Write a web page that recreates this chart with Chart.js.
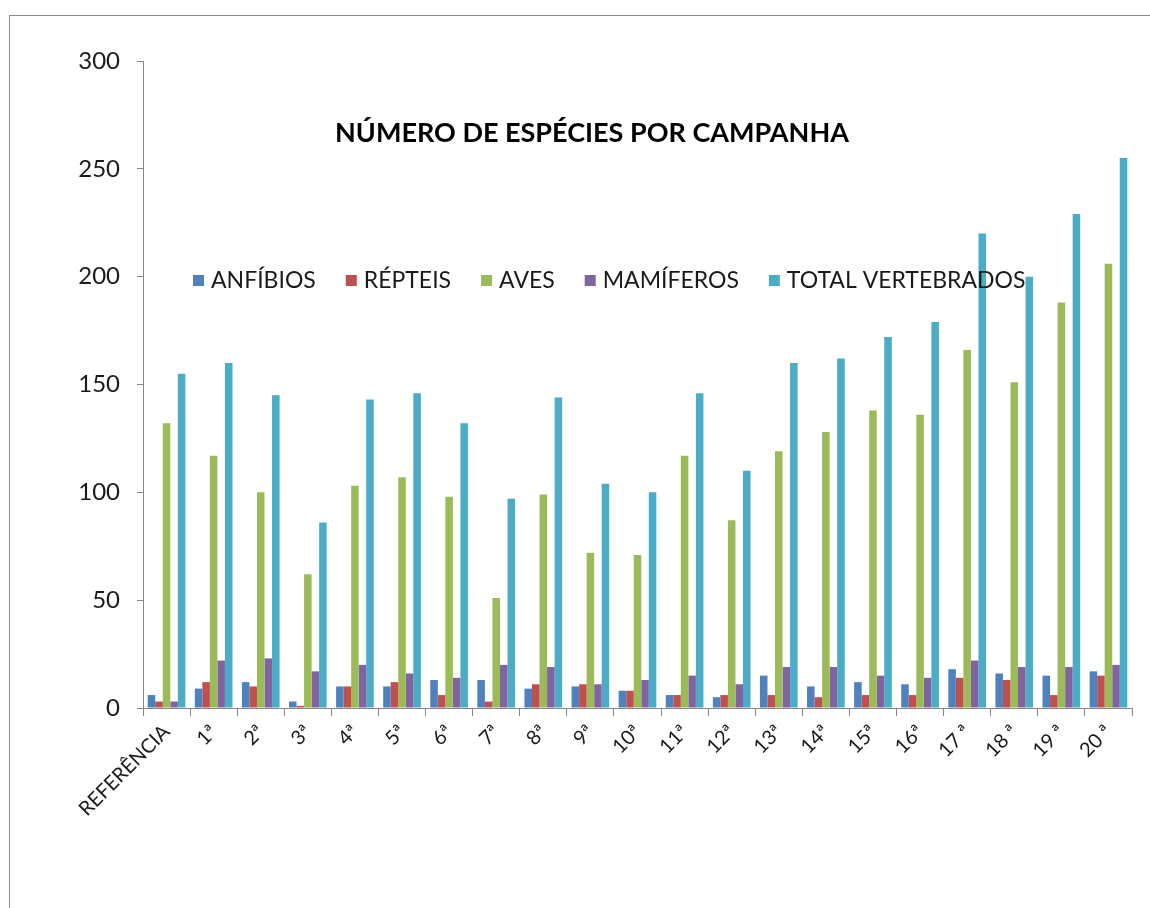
<!DOCTYPE html>
<html>
<head>
<meta charset="utf-8">
<script src="https://cdn.jsdelivr.net/npm/chart.js@4/dist/chart.umd.min.js"></script>
<style>
  body { margin: 0; background: #fff; }
  canvas { display: block; }
</style>
</head>
<body>
<canvas id="speciesChart" width="1150" height="908"></canvas>
<script>
var campanhas = ["REFERÊNCIA", "1ª", "2ª", "3ª", "4ª", "5ª", "6ª", "7ª", "8ª", "9ª", "10ª",
  "11ª", "12ª", "13ª", "14ª", "15ª", "16ª", "17 ª", "18 ª", "19 ª", "20 ª"];
var anfibios  = [6, 9, 12, 3, 10, 10, 13, 13, 9, 10, 8, 6, 5, 15, 10, 12, 11, 18, 16, 15, 17];
var repteis   = [3, 12, 10, 1, 10, 12, 6, 3, 11, 11, 8, 6, 6, 6, 5, 6, 6, 14, 13, 6, 15];
var aves      = [132, 117, 100, 62, 103, 107, 98, 51, 99, 72, 71, 117, 87, 119, 128, 138, 136, 166, 151, 188, 206];
var mamiferos = [3, 22, 23, 17, 20, 16, 14, 20, 19, 11, 13, 15, 11, 19, 19, 15, 14, 22, 19, 19, 20];
var totalVert = [155, 160, 145, 86, 143, 146, 132, 97, 144, 104, 100, 146, 110, 160, 162, 172, 179, 220, 200, 229, 255];
var yTicks = [0, 50, 100, 150, 200, 250, 300];
var chartTitle = "NÚMERO DE ESPÉCIES POR CAMPANHA";

var FONT = "Lato, 'Open Sans', sans-serif";

// frame, title and legend drawn inside the plot like the excel chart
var excelDeco = {
  id: 'excelDeco',
  beforeDraw: function(chart){
    var c = chart.ctx;
    c.save();
    c.fillStyle = '#fff';
    c.fillRect(0, 0, chart.width, chart.height);
    c.strokeStyle = '#8a8a8a';
    c.lineWidth = 1;
    c.strokeRect(9.5, 15.5, 1160, 920);
    c.restore();
  },
  afterDraw: function(chart){
    var c = chart.ctx;
    c.save();
    c.fillStyle = '#000';
    c.font = "bold 27px " + FONT;
    c.textAlign = 'center';
    c.textBaseline = 'middle';
    c.fillText(chartTitle, 592, 133);

    c.font = "23px " + FONT;
    c.textAlign = 'left';
    var x = 193, y = 280;
    chart.data.datasets.forEach(function(ds){
      c.fillStyle = ds.backgroundColor;
      c.fillRect(x, y - 5, 11, 11);
      c.fillStyle = '#1a1a1a';
      c.fillText(ds.label, x + 18, y + 1);
      x += 18 + c.measureText(ds.label).width + 30;
    });
    c.restore();
  }
};

var ctx = document.getElementById("speciesChart").getContext("2d");
var chart = new Chart(ctx, {
  type: 'bar',
  plugins: [excelDeco],
  data: {
    labels: campanhas,
    datasets: [
      { label: "ANFÍBIOS", data: anfibios, backgroundColor: "#4F81BD" },
      { label: "RÉPTEIS", data: repteis, backgroundColor: "#C0504D" },
      { label: "AVES", data: aves, backgroundColor: "#9BBB59" },
      { label: "MAMÍFEROS", data: mamiferos, backgroundColor: "#8064A2" },
      { label: "TOTAL VERTEBRADOS", data: totalVert, backgroundColor: "#4BACC6" }
    ]
  },
  options: {
    responsive: false,
    animation: false,
    layout: { padding: { top: 61, right: 18, left: 0, bottom: 0 } },
    datasets: { bar: { barPercentage: 1.0, categoryPercentage: 0.8 } },
    plugins: { legend: { display: false }, title: { display: false }, tooltip: { enabled: false } },
    scales: {
      x: {
        grid: { display: true, offset: true, drawOnChartArea: false, drawTicks: true, tickLength: 8, color: '#868686' },
        border: { display: true, color: '#868686' },
        ticks: { minRotation: 45, maxRotation: 45, padding: 4, color: '#1a1a1a', font: { family: FONT, size: 20 } },
        afterFit: function(s){ s.height = 200; }
      },
      y: {
        min: 0, max: 300,
        afterBuildTicks: function(s){ s.ticks = yTicks.map(function(v){ return { value: v }; }); },
        grid: { display: true, drawOnChartArea: false, drawTicks: true, tickLength: 6, color: '#868686' },
        border: { display: true, color: '#868686' },
        ticks: { padding: 17, color: '#1a1a1a', font: { family: FONT, size: 24 } },
        afterFit: function(s){ s.width = 143; }
      }
    }
  }
});
</script>
</body>
</html>
